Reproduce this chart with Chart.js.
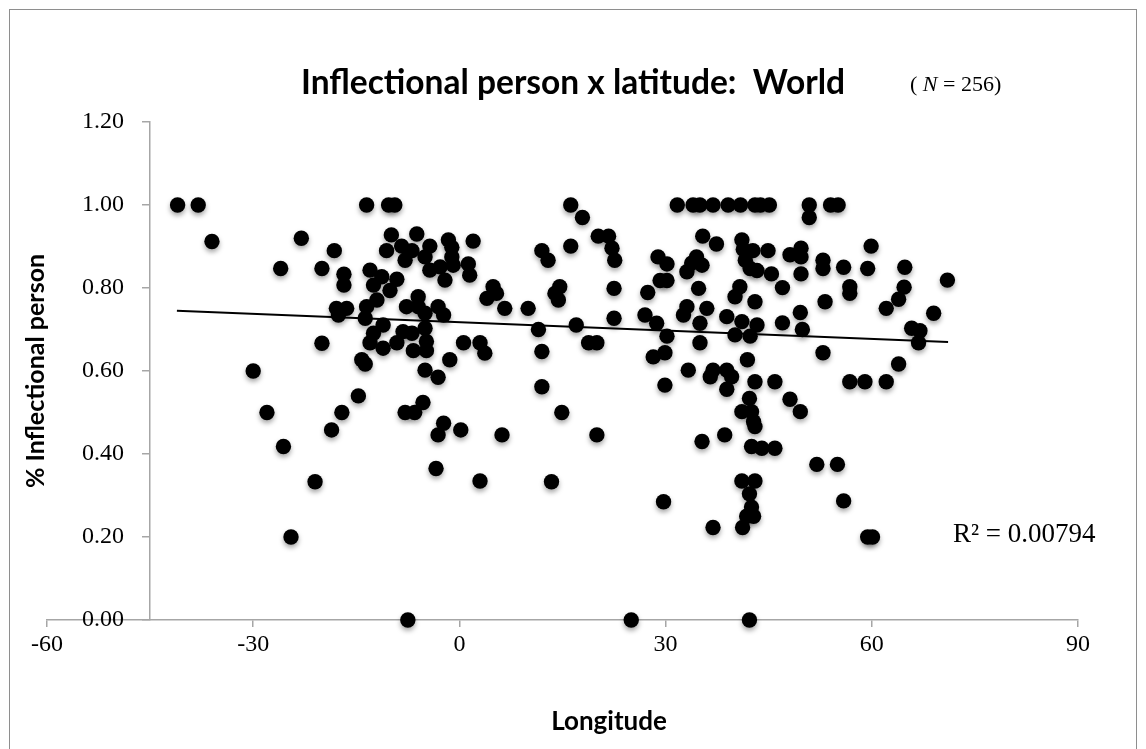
<!DOCTYPE html>
<html><head><meta charset="utf-8">
<script src="https://cdn.jsdelivr.net/npm/chart.js@4.4.1/dist/chart.umd.min.js"></script>
<style>
html,body{margin:0;padding:0;background:#fff;overflow:hidden;}
#wrap{position:relative;width:1146px;height:749px;}
#frame{position:absolute;left:9px;top:9px;width:1128px;height:800px;border:1px solid #8e8e8e;box-sizing:border-box;pointer-events:none;}
canvas{position:absolute;left:0;top:0;}
</style></head><body>
<div id="wrap"><canvas id="c" width="1146" height="749"></canvas><div id="frame"></div></div>
<script>
const chartTitle = 'Inflectional person x latitude:  World';
const xAxisTitle = 'Longitude';
const yAxisTitle = '% Inflectional person';
const rSquaredLabel = 'R\u00B2 = 0.00794';
const xTickValues = [-60, -30, 0, 30, 60, 90];
const yTickValues = [0, 0.2, 0.4, 0.6, 0.8, 1.0, 1.2];

const longitude = [
-41.0,-38.0,-36.0,-23.0,-18.2,-26.0,-20.0,-16.8,-16.8,-17.9,-16.4,-17.6,-20.0,-30.0,-28.0,-17.1,-18.6,-25.6,-21.0,-24.5,
-13.5,-10.3,-9.4,-9.9,-6.2,-1.6,2.0,-8.4,-4.3,-1.1,-10.6,-6.9,-5.0,-7.9,-1.1,-0.9,1.3,1.5,-4.3,-2.8,-2.1,-13.0,-11.3,-12.5,-9.1,-10.1,-12.0,4.9,5.4,4.0,6.6,10.0,
-13.5,-13.7,-7.7,-6.0,-6.0,-5.0,-3.1,-2.3,-11.1,-5.0,-12.5,-8.2,-6.9,-13.0,-11.1,-9.1,-4.8,-6.7,-4.8,0.6,3.0,3.7,-14.2,-13.7,-1.4,-5.0,-3.1,-14.7,-7.9,-6.5,-5.3,-2.3,-3.1,0.2,6.2,-3.4,3.0,-7.5,
16.2,17.9,20.2,21.7,22.2,22.6,16.2,12.0,12.9,14.6,13.9,14.4,22.5,22.5,11.5,17.0,18.8,20.0,12.0,12.0,14.9,20.0,13.4,25.0,
31.7,34.0,35.0,36.9,35.4,37.4,28.9,30.2,34.5,35.3,33.8,33.1,29.2,30.2,34.8,27.4,36.0,33.1,32.6,27.0,28.7,35.0,30.2,35.0,28.2,29.9,33.3,36.5,36.9,29.9,35.3,29.7,36.9,
39.1,40.9,43.0,43.8,45.1,50.9,50.9,54.0,55.1,41.1,41.3,42.7,44.9,41.6,42.3,43.3,45.4,48.1,49.7,49.7,49.7,52.9,52.9,55.9,59.4,59.9,64.8,
47.0,40.8,40.1,43.0,53.2,56.8,56.8,64.7,63.9,62.1,38.9,41.1,43.3,40.1,42.3,47.0,49.6,49.9,52.9,41.9,38.9,39.6,38.9,43.0,45.9,56.8,59.0,62.1,63.9,
42.2,48.1,41.1,42.5,42.8,43.0,49.6,38.6,
42.5,44.0,45.9,52.0,55.0,41.1,43.0,42.2,42.5,41.8,42.8,41.2,55.9,59.4,60.1,42.2,
71.0,69.0,65.8,67.0,66.8
];
const inflectionalPerson = [
1.00,1.00,0.912,0.92,0.89,0.847,0.847,0.833,0.807,0.751,0.751,0.735,0.667,0.60,0.50,0.50,0.458,0.418,0.333,0.20,
1.00,1.00,1.00,0.928,0.930,0.916,0.913,0.901,0.901,0.898,0.890,0.890,0.875,0.867,0.875,0.855,0.858,0.831,0.843,0.851,0.819,0.843,0.827,0.807,0.821,0.794,0.771,0.803,0.787,0.775,0.751,0.751,
0.755,0.727,0.755,0.779,0.755,0.739,0.755,0.735,0.711,0.703,0.691,0.695,0.691,0.668,0.655,0.668,0.671,0.649,0.649,0.668,0.668,0.643,0.627,0.617,0.627,0.602,0.585,0.540,0.500,0.500,0.524,0.474,0.446,0.458,0.446,0.365,0.335,0.00,
1.00,0.970,0.925,0.925,0.896,0.867,0.901,0.890,0.867,0.803,0.787,0.771,0.799,0.727,0.700,0.711,0.668,0.668,0.647,0.562,0.500,0.446,0.333,0.00,
1.00,1.00,1.00,1.00,0.925,0.906,0.875,0.858,0.875,0.855,0.860,0.839,0.818,0.818,0.799,0.789,0.751,0.755,0.735,0.735,0.715,0.715,0.684,0.668,0.634,0.644,0.602,0.586,0.602,0.566,0.430,0.285,0.223,
1.00,1.00,1.00,1.00,1.00,1.00,0.970,1.00,1.00,0.916,0.893,0.890,0.890,0.867,0.847,0.842,0.834,0.880,0.896,0.875,0.834,0.867,0.847,0.850,0.847,0.901,0.850,
0.801,0.803,0.779,0.767,0.767,0.803,0.787,0.802,0.773,0.751,0.731,0.719,0.711,0.687,0.684,0.716,0.741,0.700,0.644,0.627,0.602,0.586,0.556,0.574,0.574,0.574,0.574,0.574,0.617,
0.534,0.532,0.502,0.502,0.478,0.466,0.502,0.446,
0.418,0.414,0.414,0.375,0.375,0.335,0.335,0.304,0.272,0.250,0.250,0.223,0.287,0.200,0.200,0.00,
0.819,0.739,0.703,0.697,0.668
];
const trendLongitude = [-41.1, 71.1];
const trendValue = [0.745, 0.670];

const points = longitude.map((x, i) => ({x: x, y: inflectionalPerson[i]}));
const trend = trendLongitude.map((x, i) => ({x: x, y: trendValue[i]}));

const shadowPlugin = {
  id: 'markerShadow',
  beforeDatasetDraw(chart, args) {
    if (args.index === 0) {
      const c = chart.ctx; c.save();
      c.shadowColor = 'rgba(0,0,0,0.35)'; c.shadowBlur = 5; c.shadowOffsetX = 0; c.shadowOffsetY = 3;
    }
  },
  afterDatasetDraw(chart, args) { if (args.index === 0) chart.ctx.restore(); }
};

// labels of an axis placed at a value are drawn flush with the axis line; move them left of the tick marks
const yLabelShift = {
  id: 'yLabelShift',
  beforeDraw(chart) {
    const s = chart.scales.y;
    const items = s.getLabelItems();
    if (!items._shifted) {
      const gap = s.options.grid.tickLength + s.options.ticks.padding;
      items.forEach(it => { it.options.translation[0] -= gap; });
      items._shifted = true;
    }
  }
};

const textPlugin = {
  id: 'extraText',
  afterDraw(chart) {
    const c = chart.ctx; c.save(); c.fillStyle = '#000';
    c.textBaseline = 'alphabetic'; c.textAlign = 'left';
    let x = 910; const y = 91;
    c.font = '22px "Liberation Serif"'; c.fillText('( ', x, y); x += c.measureText('( ').width;
    c.font = 'italic 22px "Liberation Serif"'; c.fillText('N', x, y); x += c.measureText('N').width;
    c.font = '22px "Liberation Serif"'; c.fillText(' = 256)', x, y);
    c.font = '27px "Liberation Serif"'; c.fillText(rSquaredLabel, 953, 542);
    c.font = 'bold 26px Lato'; c.textAlign = 'center'; c.textBaseline = 'middle';
    c.fillText(xAxisTitle, 609, 722);
    c.restore();
  }
};

const axisGrey = '#a6a6a6';
new Chart(document.getElementById('c'), {
  type: 'scatter',
  data: { datasets: [
    { label: 'Inflectional person', data: points, xAxisID: 'x', yAxisID: 'y', pointRadius: 7.7, pointHoverRadius: 7.7,
      pointBackgroundColor: '#000', pointBorderWidth: 0, clip: false, order: 1 },
    { label: 'Linear trend', type: 'line', data: trend, xAxisID: 'x', yAxisID: 'y', borderColor: '#000', borderWidth: 2,
      pointRadius: 0, fill: false, order: 0 }
  ]},
  options: {
    responsive: false, animation: false, devicePixelRatio: 1,
    layout: { padding: 0 },
    plugins: {
      legend: { display: false }, tooltip: { enabled: false },
      title: { display: true, text: chartTitle, color: '#000', font: { family: 'Lato', weight: 'bold', size: 33.5, lineHeight: 1.2 },
        padding: { top: 63, bottom: 18.8 } }
    },
    scales: {
      x: { type: 'linear', min: -60, max: 90,
        afterBuildTicks(s) { s.ticks = xTickValues.map(v => ({value: v})); },
        ticks: { font: { family: 'Liberation Serif', size: 24 }, color: '#000', padding: 3, maxRotation: 0 },
        grid: { drawOnChartArea: false, drawTicks: true, tickLength: 7, color: axisGrey, lineWidth: 1.5 },
        border: { color: axisGrey, width: 1.5 },
        afterFit(s) { s.height = 129; } },
      y: { type: 'linear', min: 0, max: 1.2, position: { x: -45 },
        afterBuildTicks(s) { s.ticks = yTickValues.map(v => ({value: v})); },
        ticks: { font: { family: 'Liberation Serif', size: 24 }, color: '#000', padding: 19, callback: v => Number(v).toFixed(2) },
        grid: { drawOnChartArea: false, drawTicks: true, tickLength: 7, color: axisGrey, lineWidth: 1.5 },
        border: { color: axisGrey, width: 1.5 } },
      yTitle: { type: 'linear', position: 'left', display: true,
        ticks: { display: false }, grid: { display: false }, border: { display: false },
        title: { display: true, text: yAxisTitle, color: '#000', font: { family: 'Lato', weight: 'bold', size: 25 }, padding: { top: 21, bottom: 0 } },
        afterFit(s) { s.width = 47; } },
      yRightSpace: { type: 'linear', position: 'right', display: true,
        ticks: { display: false }, grid: { display: false }, border: { display: false },
        afterFit(s) { s.width = 68; } }
    }
  },
  plugins: [shadowPlugin, yLabelShift, textPlugin]
});
</script>
</body></html>
